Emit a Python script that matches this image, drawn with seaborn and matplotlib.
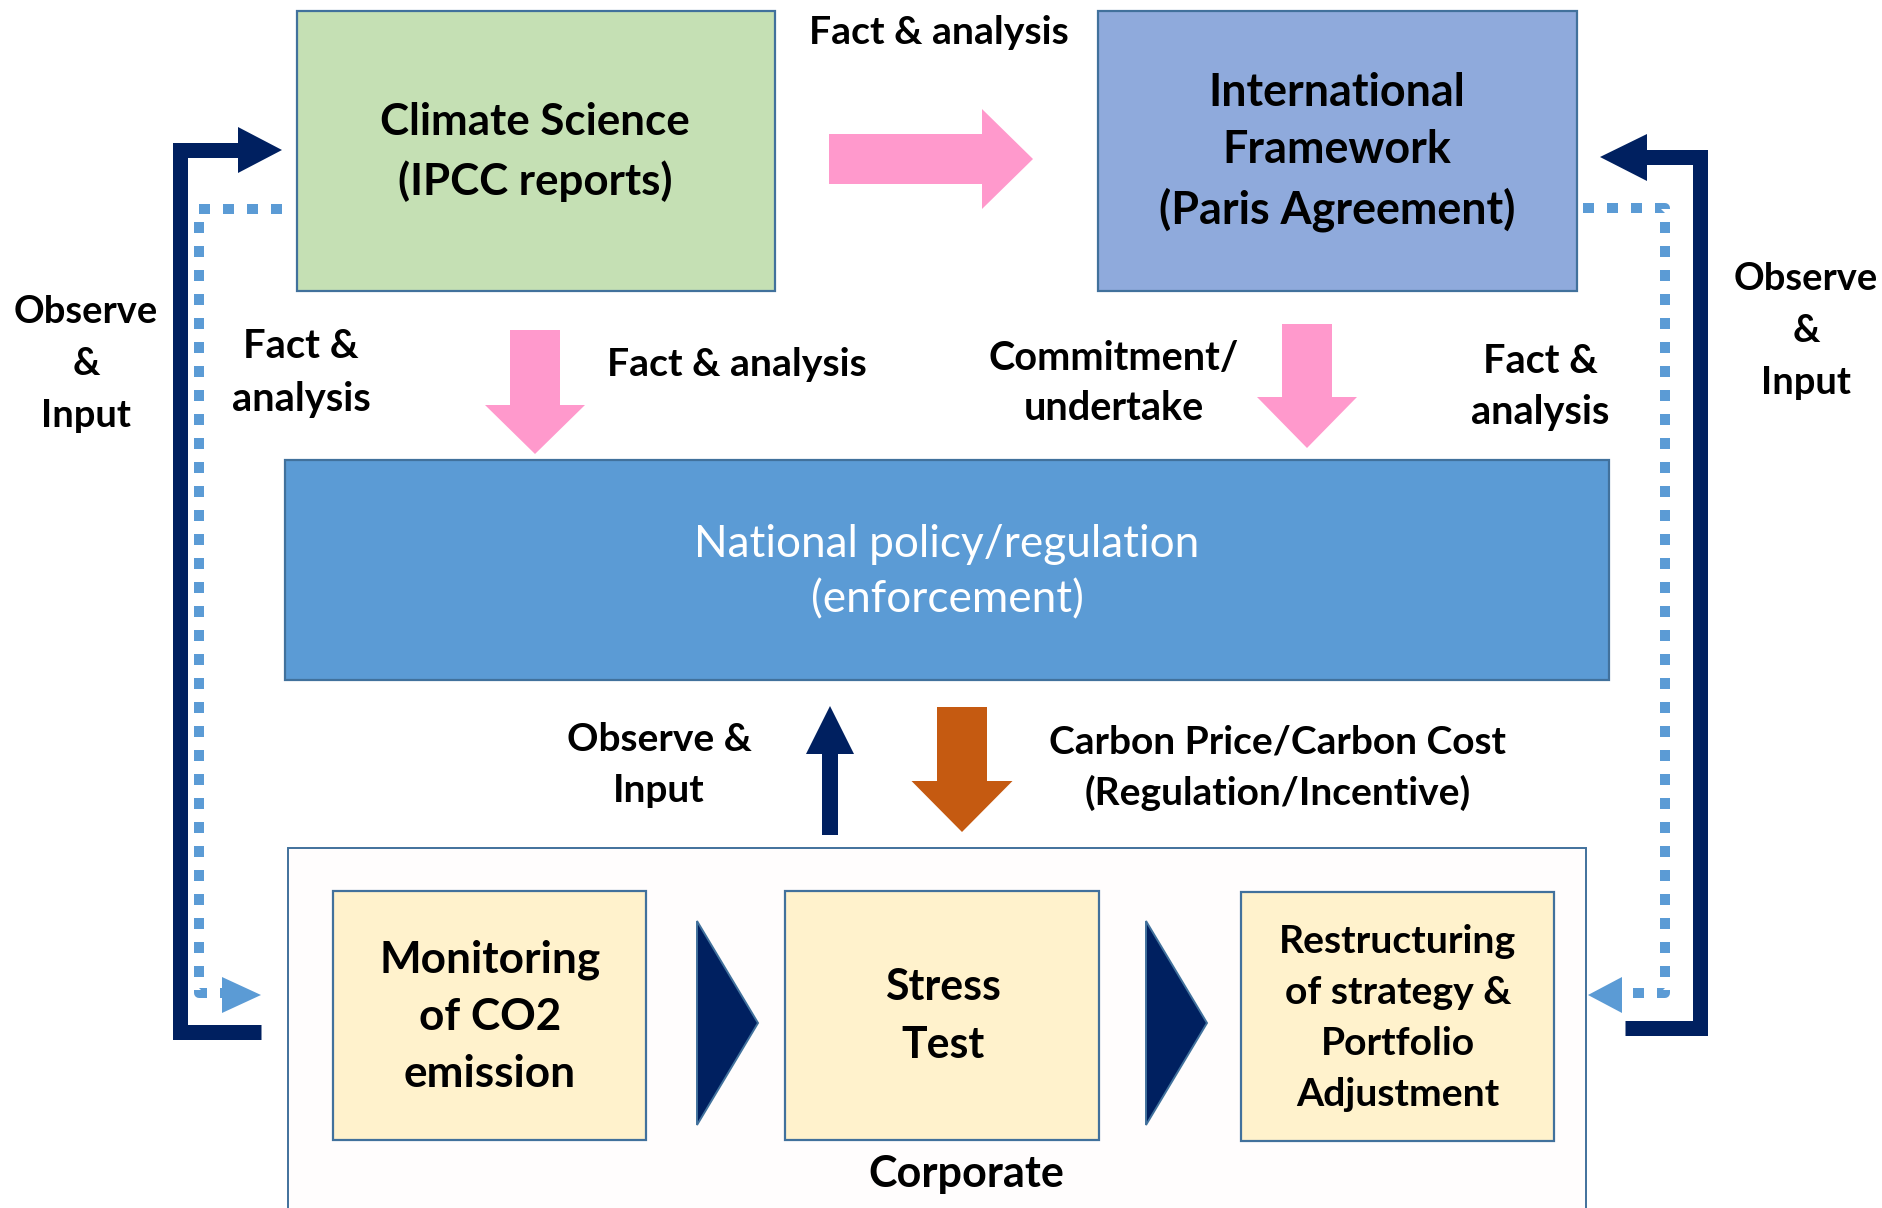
import matplotlib.pyplot as plt
import seaborn as sns
from matplotlib.patches import Rectangle, Polygon, FancyArrow

sns.set_theme(style="white")
plt.rcParams['font.family'] = ['Lato', 'DejaVu Sans']

W, H = 1883, 1208

# texts of the diagram
box_labels = ["Climate Science\n(IPCC reports)",
              "International\nFramework\n(Paris Agreement)",
              "National policy/regulation\n(enforcement)"]
step_labels = ["Monitoring\nof CO2\nemission",
               "Stress\nTest",
               "Restructuring\nof strategy &\nPortfolio\nAdjustment"]
flow_labels = ["Fact & analysis", "Fact &\nanalysis", "Fact & analysis",
               "Commitment/\nundertake", "Fact &\nanalysis", "Observe &\nInput",
               "Carbon Price/Carbon Cost\n(Regulation/Incentive)",
               "Observe\n&\nInput", "Observe\n&\nInput"]
group_label = "Corporate"

# colours
navy = "#002060"
light_blue = "#5b9bd5"
pink = "#ff99cc"
orange = "#c55a11"
edge = "#41719c"
box_colors = ["#c5e0b4", "#8faadc", "#5b9bd5"]
step_color = "#fff2cc"

# layout in pixels: (x0, y0, x1, y1)
box_pos = [(297, 11, 775, 291), (1098, 11, 1577, 291), (285, 460, 1609, 680)]
step_pos = [(333, 891, 646, 1140), (785, 891, 1099, 1140), (1241, 892, 1554, 1141)]
group_pos = (288, 848, 1586, 1240)
# text centre x, y, widest-line width, line gap
box_text = [(535, 152, 310, 58), (1337, 152, 357, 57), (947, 572, 506, 55)]
step_text = [(490, 1017, 221, 57), (943, 1016, 116, 58), (1398, 1018, 237, 51)]
flow_text = [(939, 32, 260, 50), (301, 373, 139, 52), (737, 364, 260, 50),
             (1114, 384, 250, 50), (1540, 387, 138, 51), (659, 765, 185, 51),
             (1278, 768, 458, 50), (86, 364, 144, 52), (1806, 331, 144, 52)]
group_text = (966, 1174, 196, 50)

fig = plt.figure(figsize=(W / 100, H / 100), dpi=100)
ax = fig.add_axes([0, 0, 1, 1])
ax.set_xlim(0, W)
ax.set_ylim(H, 0)
ax.axis('off')
renderer = fig.canvas.get_renderer()


def place(s, spec, color='black', weight='bold'):
    x, y, width, gap = spec
    t = ax.text(x, y, s, ha='center', va='center', fontsize=20,
                color=color, fontweight=weight, multialignment='center')
    w = t.get_window_extent(renderer).width
    t.set_fontsize(20 * width / w)
    # baseline step in matplotlib = ascent("lp") * linespacing + descent("lp")
    _, h, d = renderer.get_text_width_height_descent(
        "lp", t.get_fontproperties(), ismath=False)
    t.set_linespacing((gap - d) / (h - d))
    return t


def rect(p, fc, lw=1.6, z=2):
    ax.add_patch(Rectangle((p[0], p[1]), p[2] - p[0], p[3] - p[1],
                           facecolor=fc, edgecolor=edge, lw=lw, zorder=z))


# corporate group container
rect(group_pos, "#fffdfd", lw=1.4, z=1)

for p, c in zip(box_pos, box_colors):
    rect(p, c)
for i in range(2):
    place(box_labels[i], box_text[i])
place(box_labels[2], box_text[2], color='white', weight='normal')

for p, lab, spec in zip(step_pos, step_labels, step_text):
    rect(p, step_color)
    place(lab, spec)

for lab, spec in zip(flow_labels, flow_text):
    place(lab, spec)
place(group_label, group_text)

# block arrows: x, y, dx, dy, shaft, head width, head length, colour
arrows = [(829, 159, 204, 0, 50, 100, 51, pink),
          (535, 330, 0, 124, 50, 100, 49, pink),
          (1307, 324, 0, 124, 50, 100, 51, pink),
          (830, 835, 0, -129, 16, 48, 48, navy),
          (962, 707, 0, 125, 50, 101, 51, orange)]
for x, y, dx, dy, sw, hw, hl, c in arrows:
    ax.add_patch(FancyArrow(x, y, dx, dy, width=sw, head_width=hw,
                            head_length=hl, length_includes_head=True,
                            color=c, lw=0, zorder=3))

# chevrons between the steps
for x0 in [697, 1146]:
    ax.add_patch(Polygon([(x0, 921), (x0 + 61, 1023), (x0, 1125)],
                         facecolor=navy, edgecolor=edge, lw=1.4, zorder=3))

# thick navy feedback loops
ax.plot([261, 180, 180, 240], [1032, 1032, 150, 150], color=navy, lw=10.8,
        solid_joinstyle='miter', solid_capstyle='butt', zorder=3)
ax.add_patch(Polygon([(238, 127), (238, 173), (282, 150)], color=navy, lw=0, zorder=3))
ax.plot([1625, 1700, 1700, 1645], [1028, 1028, 157, 157], color=navy, lw=10.8,
        solid_joinstyle='miter', solid_capstyle='butt', zorder=3)
ax.add_patch(Polygon([(1647, 134), (1647, 181), (1600, 157)], color=navy, lw=0, zorder=3))

# dotted light-blue loops
ax.plot([282, 199, 199, 222], [209, 209, 993, 993], color=light_blue, lw=7.2,
        linestyle=(0, (1.1, 1.3)), dash_capstyle='butt', zorder=3)
ax.add_patch(Polygon([(222, 977), (222, 1013), (261, 995)], color=light_blue, lw=0, zorder=3))
ax.plot([1583, 1665, 1665, 1622], [208, 208, 993, 993], color=light_blue, lw=7.2,
        linestyle=(0, (1.1, 1.3)), dash_capstyle='butt', zorder=3)
ax.add_patch(Polygon([(1622, 977), (1622, 1013), (1588, 995)], color=light_blue, lw=0, zorder=3))

fig.savefig("out.png", dpi=100, facecolor='white')
